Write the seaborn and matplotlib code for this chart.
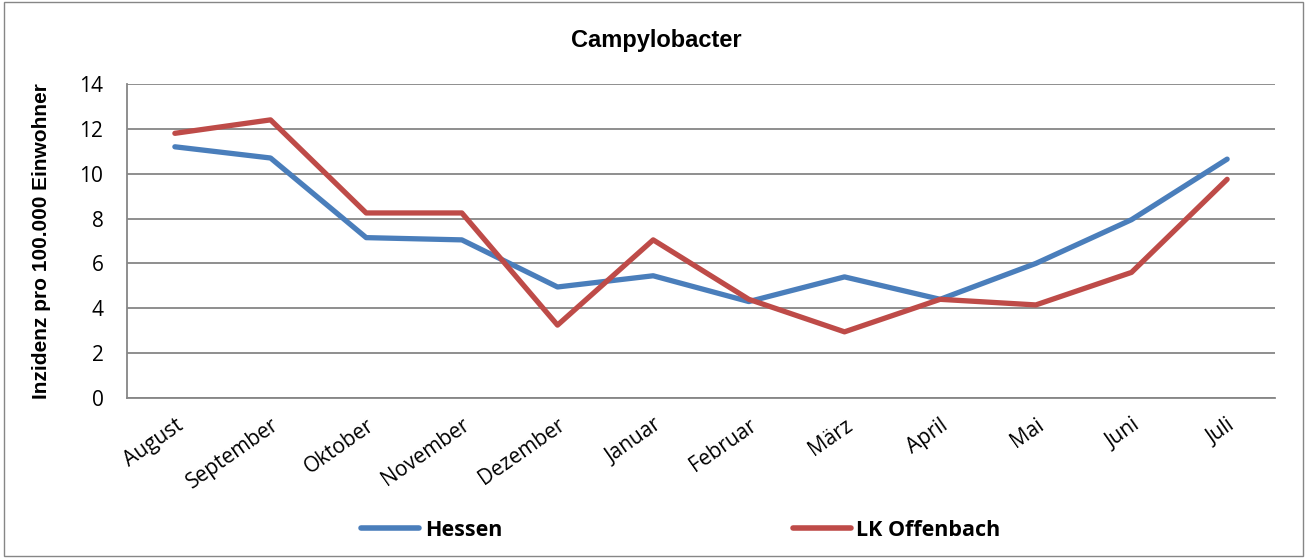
import pandas as pd
import seaborn as sns
import matplotlib.pyplot as plt
from matplotlib.patches import Rectangle

# Values
months = ['August', 'September', 'Oktober', 'November', 'Dezember', 'Januar',
          'Februar', 'März', 'April', 'Mai', 'Juni', 'Juli']
hessen = [11.2, 10.7, 7.15, 7.05, 4.95, 5.45, 4.3, 5.4, 4.4, 6.0, 7.95, 10.65]
offenbach = [11.8, 12.4, 8.25, 8.25, 3.25, 7.05, 4.4, 2.95, 4.4, 4.15, 5.6, 9.75]
series = ['Hessen', 'LK Offenbach']
yticks = [0, 2, 4, 6, 8, 10, 12, 14]

df = pd.DataFrame({
    'Monat': months * 2,
    'pos': list(range(len(months))) * 2,
    'Inzidenz': hessen + offenbach,
    'Region': [series[0]] * len(months) + [series[1]] * len(months),
})

sns.set_style("white")
plt.rcParams['font.family'] = ['Open Sans', 'DejaVu Sans']
plt.rcParams['text.color'] = 'black'
plt.rcParams['axes.labelcolor'] = 'black'

grey = '#868686'
colors = ['#4A7EBB', '#BE4B48']

fig = plt.figure(figsize=(13.07, 5.58), dpi=100)
ax = fig.add_axes([0.0972, 0.2867, 0.8783, 0.5628])

sns.lineplot(data=df, x='pos', y='Inzidenz', hue='Region', ax=ax,
             palette=colors, linewidth=3.8, legend=False)

# axes styling, Excel look
ax.set_xlim(-0.5, len(months) - 0.5)
ax.set_ylim(0, 14)
ax.set_yticks(yticks)
ax.yaxis.grid(True, color=grey, linewidth=1.3)
ax.set_axisbelow(True)
for s in ['top', 'right']:
    ax.spines[s].set_visible(False)
for s in ['left', 'bottom']:
    ax.spines[s].set_color(grey)
    ax.spines[s].set_linewidth(1.3)

ax.set_xticks(range(len(months)))
ax.set_xticklabels(months, rotation=35, ha='right', rotation_mode='anchor', fontsize=15)
ax.set_xticks([i - 0.5 for i in range(len(months) + 1)], minor=True)
ax.tick_params(axis='x', which='major', length=0, pad=12, labelcolor='black')
ax.tick_params(axis='x', which='minor', length=6, color=grey, width=1.3, direction='out')
ax.tick_params(axis='y', length=6, color=grey, width=1.3, direction='out',
               labelsize=15, pad=11, labelcolor='black')
ax.set_xlabel('')
ax.set_ylabel('Inzidenz pro 100.000 Einwohner', fontsize=15, fontweight='bold',
              family='Liberation Sans')
ax.yaxis.set_label_coords(-0.066, 0.5)

fig.text(656 / 1307, 1 - 40 / 558, 'Campylobacter', ha='center', va='center',
         fontsize=17, fontweight='bold', family='Liberation Sans')

# legend at the bottom
handles = [plt.Line2D([], [], color=c, linewidth=4) for c in colors]
fig.legend(handles, series, loc='center', bbox_to_anchor=(0.521, 0.05), ncol=2,
           frameon=False, columnspacing=13.5, handlelength=2.7, handletextpad=0.25,
           prop={'weight': 'bold', 'size': 15.5,
                 'family': ['Liberation Sans Narrow', 'Open Sans']})

# outer chart border
fig.patches.append(Rectangle((0.003, 0.004), 0.994, 0.992, transform=fig.transFigure,
                             fill=False, edgecolor=grey, linewidth=1))

plt.savefig('out.png', dpi=100)
